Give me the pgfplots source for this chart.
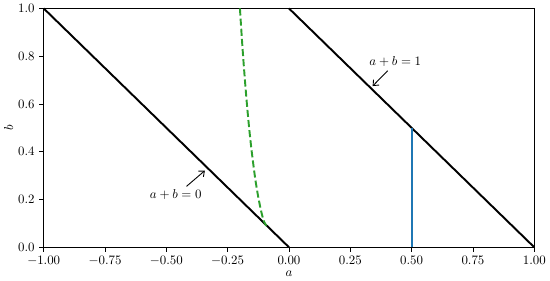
\documentclass[border=0pt]{standalone}
\usepackage{pgfplots}
\pgfplotsset{compat=1.18}
\usetikzlibrary{arrows.meta}
\definecolor{mplblue}{RGB}{31,119,180}
\definecolor{mplgreen}{RGB}{44,160,44}
\begin{document}
\begin{tikzpicture}
\begin{axis}[
  scale only axis, width=381pt, height=185.5pt,
  xmin=-1, xmax=1, ymin=0, ymax=1,
  xtick={-1,-0.75,-0.5,-0.25,0,0.25,0.5,0.75,1},
  ytick={0,0.2,0.4,0.6,0.8,1},
  xticklabel style={/pgf/number format/.cd,fixed,fixed zerofill,precision=2},
  yticklabel style={/pgf/number format/.cd,fixed,fixed zerofill,precision=1},
  tick align=outside, tick pos=left,
  major tick length=3.5pt,
  every tick/.style={black, line width=0.6pt},
  axis line style={line width=0.6pt},
  xlabel={$a$}, ylabel={$b$},
  xlabel style={yshift=3pt}, ylabel style={yshift=-3pt},
  clip=false,
]
\addplot[black, line width=1.5pt] coordinates {(-1,1) (0,0)};
\addplot[black, line width=1.5pt] coordinates {(0,1) (1,0)};
\addplot[color=mplblue, line width=1.5pt] coordinates {(0.5,0) (0.5,0.5)};
\addplot[color=mplgreen, line width=1.5pt, dash pattern=on 5.5pt off 2.4pt, smooth] coordinates {
  (-0.2,1) (-0.1938,0.9) (-0.1871,0.8) (-0.1797,0.7) (-0.1716,0.6) (-0.1625,0.5)
  (-0.1519,0.4) (-0.1394,0.3) (-0.1320,0.25) (-0.1234,0.2) (-0.1132,0.15)
  (-0.1030,0.11) (-0.092,0.09)};
\draw[-{Straight Barb[length=3.5pt,width=6pt]}, line width=0.7pt] (axis cs:-0.418,0.255) -- (axis cs:-0.343,0.321);
\node at (axis cs:-0.462,0.221) {$a+b=0$};
\draw[-{Straight Barb[length=3.5pt,width=6pt]}, line width=0.7pt] (axis cs:0.402,0.739) -- (axis cs:0.341,0.675);
\node at (axis cs:0.433,0.776) {$a+b=1$};
\end{axis}
\end{tikzpicture}
\end{document}
